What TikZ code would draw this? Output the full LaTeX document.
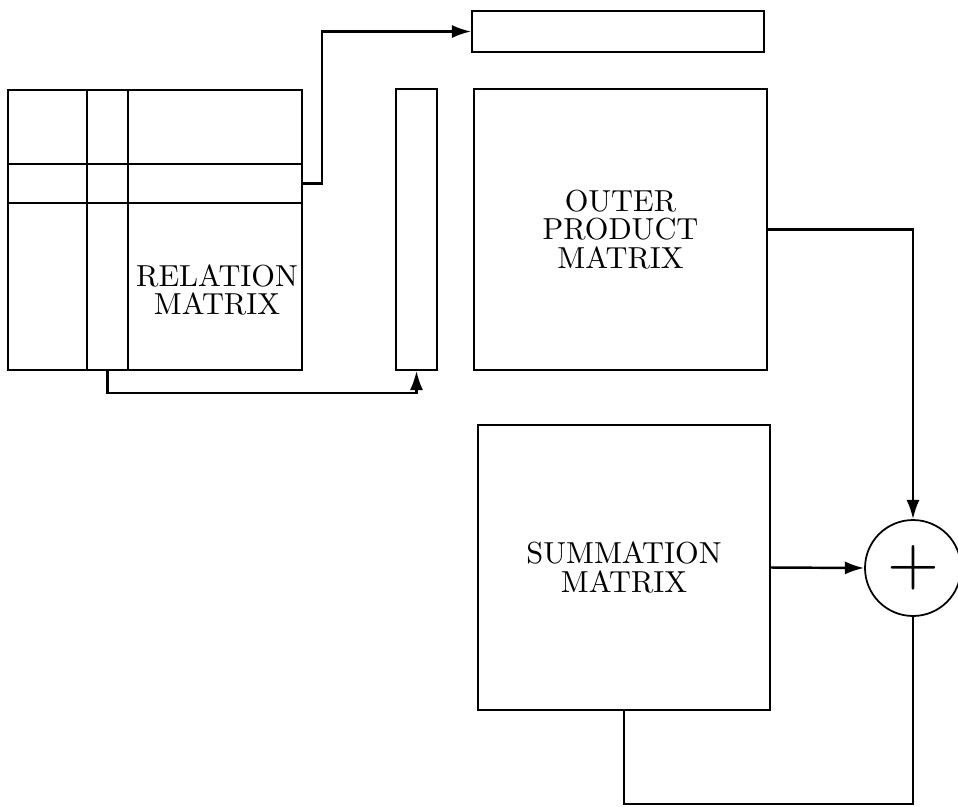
\documentclass[tikz,border=0pt]{standalone}
\usepackage{fontspec}
\setmainfont{lmroman10-regular}[Extension=.otf]
\usetikzlibrary{positioning, arrows.meta, calc}
\begin{document}
\begin{tikzpicture}[x=0.02cm, y=-0.02cm,
        mat/.style={draw, line width=1pt, inner sep=0pt, align=center, font=\fontsize{17.3}{16.3}\selectfont},
        conn/.style={line width=1.4pt, -{Latex[length=11pt, width=7.5pt]}},
        wire/.style={line width=1.4pt}]
      \useasboundingbox (0,0) rectangle (958,806);
      % relation matrix with one row and one column picked out
      \node[mat, minimum width=5.88cm, minimum height=5.6cm] (rel) at (155,230) {};
      \foreach \y in {164,203} \draw[line width=0.9pt] (rel.west |- 0,\y) -- (rel.east |- 0,\y);
      \foreach \x in {87,128} \draw[line width=0.8pt] (rel.north -| \x,0) -- (rel.south -| \x,0);
      \node[align=center, font=\fontsize{17.3}{16.3}\selectfont] (rellbl) at (217,290) {RELATION\\MATRIX};
      \coordinate (row) at (rel.east |- 0,183.5);
      \coordinate (col) at (rel.south -| 107.5,0);
      % vectors and matrices
      \node[mat, minimum width=5.84cm, minimum height=0.82cm] (vec) at (618,31.5) {};
      \node[mat, minimum width=0.82cm, minimum height=5.62cm] (bar) at (416.5,229.5) {};
      \node[mat, minimum width=5.86cm, minimum height=5.62cm] (outer) at (620.5,229.5) {OUTER\\PRODUCT\\MATRIX};
      \node[mat, minimum width=5.84cm, minimum height=5.7cm] (sum) at (624,567.5) {SUMMATION\\MATRIX};
      \node[draw, circle, line width=1pt, minimum size=1.92cm, inner sep=0pt, font=\fontsize{38}{38}\selectfont] (add) at (913,568) {+};
      % connectors
      \draw[conn] (row) -- (322,183.5) |- (vec.west);
      \draw[conn] (col) -- ++(0,22) -| (bar.south);
      \draw[conn] (outer.east) -| (add.north);
      \draw[conn] (sum.east) -- (add.west);
      \draw[wire] (add.south) -- (add.south |- 0,804) -| (sum.south);
    \end{tikzpicture}
\end{document}
